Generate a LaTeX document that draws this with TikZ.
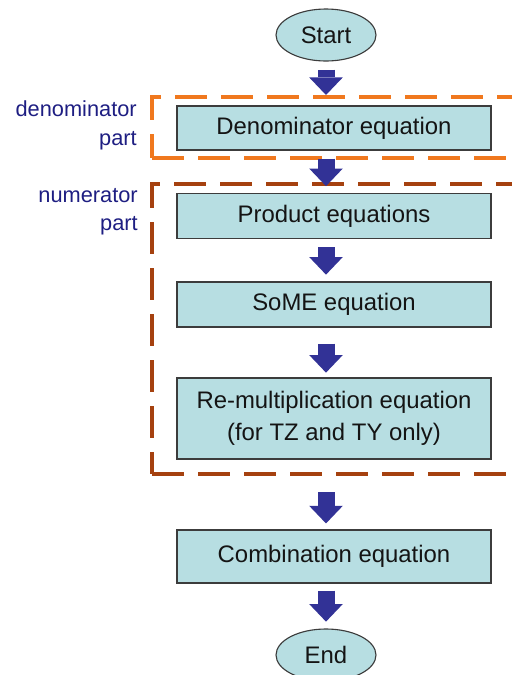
\documentclass[tikz,border=0pt]{standalone}
\usepackage{fontspec}
\setmainfont{Liberation Sans}
\usepackage{tikz}
\usetikzlibrary{arrows.meta,shapes,positioning}
\usepackage{xcolor}
\definecolor{fcbox}{RGB}{183,222,226}
\definecolor{fcedge}{RGB}{60,60,60}
\definecolor{fctext}{RGB}{20,20,20}
\definecolor{fcarrow}{RGB}{50,50,150}
\definecolor{fclabel}{RGB}{30,30,130}
\definecolor{fcorange}{RGB}{240,120,30}
\definecolor{fcbrown}{RGB}{165,65,15}
\tikzstyle{process} = [rectangle, minimum width=7.85cm, minimum height=1.1cm, inner sep=0, text centered, align=center, draw=fcedge, fill=fcbox, line width=0.8pt, text=fctext, font=\fontsize{17}{22.5}\selectfont]
\tikzstyle{terminal} = [ellipse, minimum width=2.5cm, minimum height=1.3cm, inner sep=0, draw=fcedge, fill=fcbox, line width=0.8pt, text=fctext, font=\fontsize{17}{22.5}\selectfont]
\tikzstyle{arrow} = [line width=0.425cm, color=fcarrow, -{Triangle[length=0.44cm,width=0.84cm,line width=0pt]}]
\tikzstyle{region} = [rectangle, inner sep=0, line width=0.1cm, dash pattern=on 0.8cm off 0.35cm, minimum width=9.7cm]
\tikzstyle{partlabel} = [align=right, anchor=east, inner sep=0, text=fclabel, font=\fontsize{15.5}{20}\selectfont]

\begin{document}
\begin{tikzpicture}
\useasboundingbox (0,0) rectangle (12.775,-16.875);

% Dashed regions
\node[region, draw=fcorange, minimum height=1.525cm] (denpart) at (8.65,-3.1875) {};
\node[region, draw=fcbrown, minimum height=7.25cm] (numpart) at (8.65,-8.225) {};
\node[partlabel] (denlabel) at (3.425,-3.135) {denominator\strut\\part\strut};
\node[partlabel] (numlabel) at (3.45,-5.27) {numerator\strut\\part\strut};

% Steps
\node[terminal] (start) at (8.15,-0.875) {Start};
\node[process] (den) at (8.35,-3.2) {Denominator equation};
\node[process, minimum height=1.125cm] (prod) at (8.35,-5.4) {Product equations};
\node[process, minimum height=1.125cm] (some) at (8.35,-7.6125) {SoME equation};
\node[process, minimum height=2.025cm] (remul) at (8.35,-10.4625) {Re-multiplication equation\\(for TZ and TY only)};
\node[process, minimum height=1.325cm] (comb) at (8.35,-13.9125) {Combination equation};
\node[terminal] (end) at (8.15,-16.375) {End};

% Arrows
\draw[arrow, shorten <=0.2cm, shorten >=0cm] (start.south) -- (denpart.north -| start);
\draw[arrow, shorten <=0.2cm, shorten >=0.17cm] (den.south -| start) -- (prod.north -| start);
\draw[arrow, shorten <=0.2cm, shorten >=0.17cm] (prod.south -| start) -- (some.north -| start);
\draw[arrow, shorten <=0.4cm, shorten >=0.12cm] (some.south -| start) -- (remul.north -| start);
\draw[arrow, shorten <=0.82cm, shorten >=0.15cm] (remul.south -| start) -- (comb.north -| start);
\draw[arrow, shorten <=0.175cm, shorten >=0.17cm] (comb.south -| start) -- (end.north);
\end{tikzpicture}
\end{document}
